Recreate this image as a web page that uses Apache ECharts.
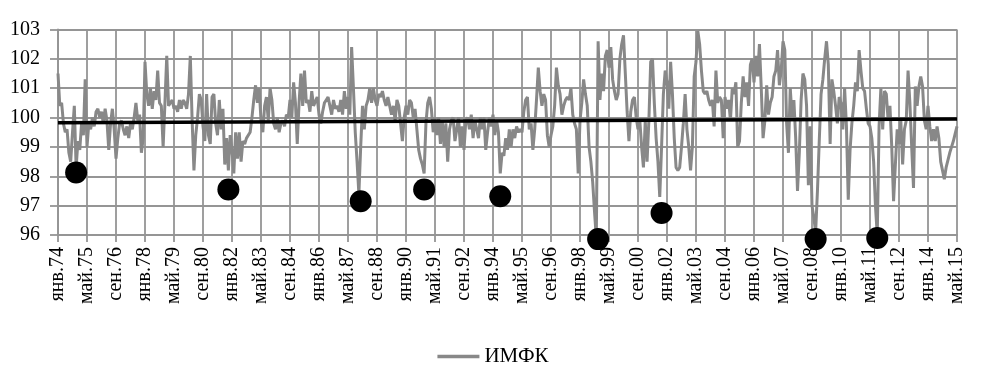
<!DOCTYPE html>
<html>
<head>
<meta charset="utf-8">
<script src="https://cdn.jsdelivr.net/npm/echarts@6/dist/echarts.min.js"></script>
<style>
html,body{margin:0;padding:0;background:#fff;}
#chart{width:986px;height:382px;}
</style>
</head>
<body>
<div id="chart"></div>
<script>
// ---- data ----
const monthNames = ['янв','фев','мар','апр','май','июн','июл','авг','сен','окт','ноя','дек'];
const firstYear = 1974, lastYear = 2015, lastMonthIndex = 4; // up to май.15

const imfk_1974_1979 = [
  101.5, 100.4, 100.5, 99.8, 99.5, 99.6, 98.8, 98.5, 99.5, 100.4, 98.3, 99.2,
  98.9, 99.8, 99.4, 101.3, 99.0, 99.8, 99.6, 100.0, 99.7, 100.2, 100.3, 100.0,
  100.2, 99.8, 100.3, 99.9, 98.9, 99.8, 100.3, 99.6, 98.6, 99.3, 99.8, 99.9,
  99.6, 99.4, 99.7, 99.3, 99.8, 99.6, 100.0, 100.5, 99.9, 100.1, 98.8, 99.3,
  101.9, 100.8, 100.4, 101.0, 100.3, 100.9, 100.6, 101.6, 100.5, 100.4, 99.0, 100.5,
  102.1, 100.4, 100.4, 100.6, 100.3, 100.4, 100.2, 100.6, 100.3, 100.6, 100.5, 100.3
];
const imfk_1980_1985 = [
  100.8, 102.1, 99.9, 98.2, 99.4, 100.0, 100.8, 100.6, 99.7, 99.2, 100.8, 99.4,
  99.1, 100.7, 100.8, 99.8, 99.4, 100.6, 99.6, 100.3, 98.4, 99.3, 98.2, 99.4,
  98.9, 98.1, 99.5, 98.6, 99.5, 98.5, 99.2, 99.1, 99.3, 99.3, 99.5, 100.0,
  100.6, 101.1, 100.5, 101.0, 99.9, 99.5, 100.4, 100.7, 99.9, 101.0, 100.6, 99.8,
  99.6, 100.0, 99.5, 99.8, 99.9, 99.7, 100.1, 100.0, 100.6, 100.0, 101.2, 100.5,
  99.1, 100.5, 101.5, 100.4, 101.6, 100.5, 100.6, 100.2, 100.9, 100.4, 100.4, 100.7
];
const imfk_1986_1991 = [
  100.1, 99.8, 100.2, 100.5, 100.6, 100.7, 100.4, 100.1, 100.6, 100.3, 100.4, 100.2,
  100.6, 100.1, 100.9, 100.3, 100.7, 100.1, 102.4, 101.0, 99.5, 98.5, 97.4, 99.0,
  100.4, 99.6, 100.4, 100.6, 101.0, 100.5, 101.0, 100.6, 100.4, 100.8, 100.7, 100.9,
  100.6, 100.4, 100.7, 100.4, 100.1, 100.4, 99.9, 100.6, 100.4, 99.8, 99.2, 100.0,
  100.4, 100.1, 100.6, 100.5, 100.0, 100.3, 99.6, 98.9, 98.6, 98.4, 98.1, 99.8,
  100.5, 100.7, 100.3, 99.5, 100.0, 99.4, 100.0, 99.1, 99.9, 99.0, 99.8, 98.5
];
const imfk_1992_1997 = [
  99.6, 99.9, 100.0, 99.2, 99.6, 100.0, 99.0, 99.7, 98.9, 99.9, 100.0, 99.6,
  100.1, 99.3, 99.9, 99.6, 99.3, 100.0, 99.6, 100.0, 98.9, 99.5, 100.0, 99.7,
  100.1, 99.4, 99.9, 99.5, 98.1, 98.8, 98.7, 99.3, 98.9, 99.6, 99.0, 99.6,
  99.3, 99.7, 99.5, 99.6, 99.5, 100.2, 100.6, 100.7, 99.6, 99.8, 98.9, 99.6,
  100.6, 101.7, 100.9, 100.4, 100.8, 100.6, 99.4, 99.0, 99.4, 99.7, 100.4, 101.7,
  101.1, 100.8, 100.1, 100.4, 100.6, 100.7, 100.6, 101.0, 100.1, 99.8, 99.6, 98.1
];
const imfk_1998_2003 = [
  99.9, 100.5, 101.3, 100.8, 100.4, 99.0, 98.5, 97.8, 96.8, 95.9, 102.6, 100.6,
  101.5, 100.9, 102.1, 102.3, 101.7, 102.4, 101.3, 100.9, 100.6, 100.8, 102.0, 102.5,
  102.8, 101.5, 100.2, 99.2, 100.2, 100.6, 100.7, 100.0, 99.6, 99.9, 99.0, 98.3,
  99.9, 98.5, 99.9, 101.9, 102.0, 100.5, 99.3, 98.5, 97.3, 99.0, 100.8, 101.6,
  101.2, 100.3, 101.9, 100.8, 99.3, 98.3, 98.2, 98.3, 99.0, 99.8, 100.8, 99.6,
  99.0, 98.2, 99.0, 101.4, 101.9, 102.95, 102.5, 101.6, 100.9, 100.8, 100.9, 100.6
];
const imfk_2004_2009 = [
  100.4, 100.6, 99.7, 101.6, 100.5, 100.7, 100.6, 99.3, 100.7, 100.3, 100.6, 99.9,
  101.0, 100.8, 101.2, 99.0, 99.2, 100.5, 101.4, 100.7, 101.2, 100.4, 101.8, 102.0,
  101.2, 102.1, 101.4, 102.5, 101.0, 99.3, 99.9, 101.1, 100.1, 100.5, 100.7, 101.4,
  101.6, 102.3, 101.1, 101.6, 102.6, 102.3, 99.8, 98.8, 101.0, 100.0, 100.6, 99.3,
  97.5, 98.8, 100.6, 101.5, 101.3, 100.4, 97.7, 99.7, 97.0, 96.6, 96.1, 97.5,
  99.2, 100.8, 101.3, 102.0, 102.6, 101.8, 99.1, 101.3, 100.9, 100.4, 99.8, 100.7
];
const imfk_2010_2015 = [
  100.5, 99.6, 101.0, 99.7, 97.2, 98.9, 99.8, 100.4, 101.2, 100.9, 102.3, 101.6,
  101.0, 100.9, 100.3, 99.8, 99.7, 99.3, 98.5, 97.0, 96.0, 99.7, 101.0, 99.6,
  100.9, 100.8, 99.9, 100.4, 99.0, 97.15, 98.4, 99.6, 99.1, 99.9, 98.4, 99.6,
  99.9, 101.6, 100.5, 99.0, 97.6, 101.06, 100.4, 101.06, 101.4, 101.06, 99.9, 99.6,
  100.4, 99.7, 99.2, 99.6, 99.2, 99.7, 99.3, 98.5, 98.2, 97.9, 98.3, 98.3,
  98.8, 99.0, 99.2, 99.45, 99.7
];

// crisis markers (black dots)
const crisisDates  = ['ноя.74','ноя.81','дек.87','ноя.90','май.94','ноя.98','окт.01','ноя.08','сен.11'];
const crisisValues = [98.13, 97.55, 97.15, 97.55, 97.32, 95.86, 96.75, 95.86, 95.9];

// linear trend end points
const trendStart = 99.82, trendEnd = 99.95;

// ---- build ----
const categories = [];
for (let y = firstYear; y <= lastYear; y++) {
  for (let m = 0; m < 12; m++) {
    if (y === lastYear && m > lastMonthIndex) break;
    categories.push(monthNames[m] + '.' + String(y % 100).padStart(2, '0'));
  }
}
const imfk = [].concat(imfk_1974_1979, imfk_1980_1985, imfk_1986_1991,
                       imfk_1992_1997, imfk_1998_2003, imfk_2004_2009, imfk_2010_2015);

const serif = '"Liberation Serif", "Times New Roman", serif';
const gridGray = '#959595';

const chart = echarts.init(document.getElementById('chart'));
chart.setOption({
  animation: false,
  backgroundColor: '#fff',
  grid: { left: 58, right: 29, top: 29.5, bottom: 147 },
  legend: {
    show: true,
    left: 'center',
    top: 341,
    itemWidth: 42,
    itemHeight: 3.5,
    data: [{ name: 'ИМФК', icon: 'rect' }],
    textStyle: { fontFamily: serif, fontSize: 21, color: '#000' }
  },
  xAxis: {
    type: 'category',
    boundaryGap: false,
    data: categories,
    axisLine: { show: true, lineStyle: { color: gridGray, width: 1.8 } },
    axisTick: { show: true, interval: 15, length: 7, lineStyle: { color: gridGray, width: 1.8 } },
    axisLabel: {
      interval: 15, rotate: 90, margin: 12,
      fontFamily: serif, fontSize: 20, color: '#000'
    },
    splitLine: { show: true, interval: 15, lineStyle: { color: gridGray, width: 1.8 } }
  },
  yAxis: {
    type: 'value',
    min: 96, max: 103, interval: 1,
    axisLine: { show: true, lineStyle: { color: gridGray, width: 1.8 } },
    axisTick: { show: true, length: 8, lineStyle: { color: gridGray, width: 1.8 } },
    axisLabel: { margin: 18, fontFamily: serif, fontSize: 20, color: '#000' },
    splitLine: { show: true, lineStyle: { color: gridGray, width: 1.8 } }
  },
  series: [
    {
      name: 'ИМФК',
      type: 'line',
      data: imfk,
      showSymbol: false,
      symbol: 'none',
      lineStyle: { color: '#888888', width: 3 },
      itemStyle: { color: '#888888' },
      z: 2
    },
    {
      name: 'trend',
      type: 'line',
      data: [[categories[0], trendStart], [categories[categories.length - 1], trendEnd]],
      showSymbol: false,
      symbol: 'none',
      lineStyle: { color: '#000', width: 3.5 },
      z: 3
    },
    {
      name: 'crisis',
      type: 'scatter',
      clip: false,
      data: crisisDates.map((d, i) => [d, crisisValues[i]]),
      symbol: 'circle',
      symbolSize: 22,
      itemStyle: { color: '#000', opacity: 1 },
      z: 4
    }
  ]
});
</script>
</body>
</html>
